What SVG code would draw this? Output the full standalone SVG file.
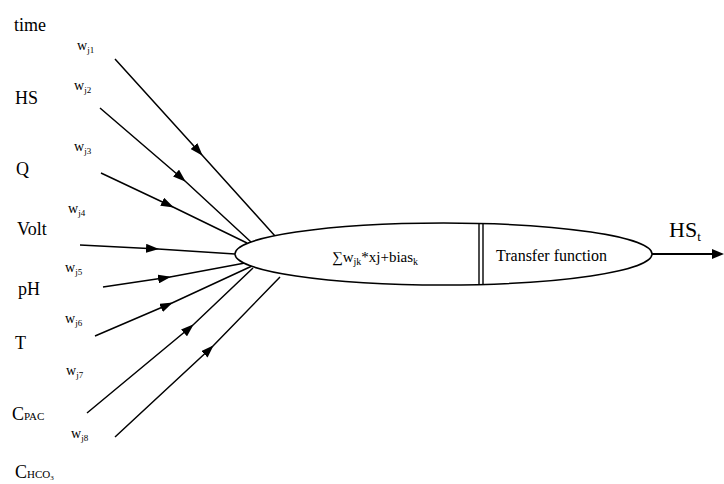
<svg xmlns="http://www.w3.org/2000/svg" width="724" height="484" viewBox="0 0 724 484">
<style>
text{font-family:"Liberation Serif","Times New Roman",serif;fill:#000}
.lab{font-size:18px}
.w{font-size:14px}
.sub{font-size:9px}
.in{fill:none;stroke:#000;stroke-width:1.5;marker-mid:url(#ah)}
</style>
<defs>
<marker id="ah" markerUnits="userSpaceOnUse" markerWidth="13" markerHeight="9" refX="12" refY="4.5" orient="auto">
<path d="M0,0 L13,4.5 L0,9 z" fill="#000"/>
</marker>
</defs>
<rect width="724" height="484" fill="#fff"/>
<g id="labels">
<text class="lab" x="14" y="31">time</text>
<text class="lab" x="15" y="104">HS</text>
<text class="lab" x="16" y="175">Q</text>
<text class="lab" x="17" y="235">Volt</text>
<text class="lab" x="18" y="295">pH</text>
<text class="lab" x="15" y="349">T</text>
<text class="lab" x="12" y="420">C<tspan font-size="11">PAC</tspan></text>
<text class="lab" x="15" y="478">C<tspan font-size="11">HCO</tspan><tspan font-size="7" dy="2">3</tspan></text>
</g>
<g id="weights">
<text class="w" x="77" y="50">w<tspan class="sub" dy="3">j1</tspan></text>
<text class="w" x="74" y="90">w<tspan class="sub" dy="3">j2</tspan></text>
<text class="w" x="74" y="151">w<tspan class="sub" dy="3">j3</tspan></text>
<text class="w" x="68" y="213">w<tspan class="sub" dy="3">j4</tspan></text>
<text class="w" x="65" y="272">w<tspan class="sub" dy="3">j5</tspan></text>
<text class="w" x="65" y="323">w<tspan class="sub" dy="3">j6</tspan></text>
<text class="w" x="66" y="375">w<tspan class="sub" dy="3">j7</tspan></text>
<text class="w" x="71" y="438">w<tspan class="sub" dy="3">j8</tspan></text>
</g>
<g id="connectors">
<polyline class="in" points="115,59 202,155 275,236"/>
<polyline class="in" points="100,108 185,181 251,242"/>
<polyline class="in" points="101,173 173,207 247,243"/>
<polyline class="in" points="80,245 158,249 235,254"/>
<polyline class="in" points="103,287 170,277 245,263"/>
<polyline class="in" points="95,336 172,303 252,266"/>
<polyline class="in" points="87,413 193,325 253,268"/>
<polyline class="in" points="115,437 213,346 280,277"/>
<line x1="652" y1="254" x2="713" y2="254" stroke="#000" stroke-width="2.2"/>
<path d="M712,249 L724,254 L712,259 z" fill="#000"/>
</g>
<g id="neuron">
<ellipse cx="443.5" cy="254" rx="208.5" ry="31" fill="#fff" stroke="#000" stroke-width="1.5"/>
<line x1="479" y1="223.5" x2="479" y2="284.5" stroke="#000" stroke-width="1.4"/>
<line x1="483" y1="223.5" x2="483" y2="284.5" stroke="#000" stroke-width="1.4"/>
<text x="332" y="262" font-size="15" font-family="Liberation Serif, serif">∑w<tspan font-size="10" dy="3">jk</tspan><tspan dy="-3">*xj+bias</tspan><tspan font-size="10" dy="3">k</tspan></text>
<text x="496" y="261" font-size="16" font-family="Liberation Serif, serif">Transfer function</text>
</g>
<g id="output">
<text x="669" y="237" font-size="22" font-family="Liberation Serif, serif">HS<tspan font-size="13" dy="4">t</tspan></text>
</g>
</svg>
